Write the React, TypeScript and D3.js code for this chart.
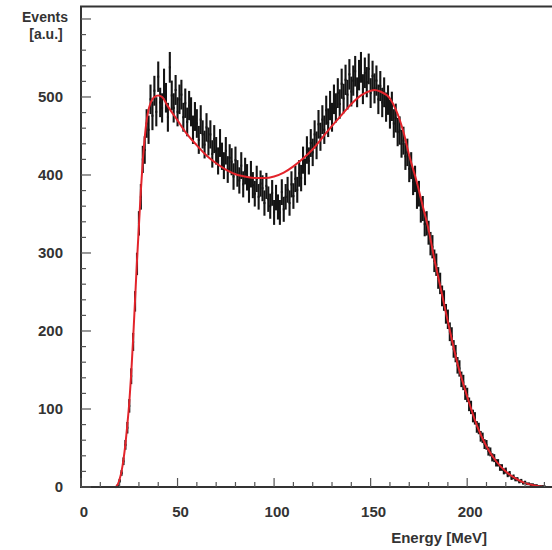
import React from "react";
import * as d3 from "d3";

// histogram: first bin centre (MeV) and counts per 1 MeV bin
const binStart = 18;
const counts = [
  0, 2, 8, 18, 33, 54, 76, 104, 142, 186, 238, 286, 338, 372, 420, 432, 466,
  458, 497, 476, 508, 481, 526, 493, 486, 517, 499, 474, 538, 502, 486, 509,
  481, 497, 503, 474, 492, 468, 489, 481, 458, 475, 466, 445, 471, 452, 439,
  461, 443, 452, 427, 446, 431, 418, 441, 424, 412, 431, 407, 422, 417, 398,
  419, 402, 393, 412, 388, 405, 397, 381, 401, 387, 376, 395, 372, 389, 383,
  364, 386, 369, 360, 377, 352, 371, 359, 352, 378, 356, 372, 381, 364, 388,
  373, 395, 381, 402, 396, 419, 404, 432, 418, 441, 429, 452, 438, 465, 449,
  471, 458, 483, 467, 489, 474, 497, 486, 505, 491, 517, 498, 522, 503, 529,
  507, 521, 533, 506, 528, 538, 510, 531, 519, 536, 505, 527, 511, 521, 497,
  514, 493, 506, 487, 496, 478, 488, 466, 473, 455, 457, 440, 444, 424, 429,
  408, 412, 391, 395, 373, 376, 355, 357, 337, 338, 326, 312, 308, 290, 285,
  268, 261, 245, 239, 222, 215, 199, 193, 177, 171, 156, 152, 138, 134, 121,
  118, 106, 102, 91, 88, 77, 75, 65, 63, 55, 54, 46, 45, 38, 37, 31, 31, 25,
  25, 20, 21, 16, 17, 12, 13, 10, 10, 7, 8, 5, 6, 4, 4, 3, 3, 2, 2, 1, 1, 1, 1,
];

// fit curve
const fitEnergy = [
  18, 19, 20, 21, 22, 23, 24, 25, 26, 27, 28, 29, 30, 31, 32, 33, 34, 35, 36,
  37, 38, 40, 42, 45, 50, 55, 60, 65, 70, 75, 80, 85, 90, 95, 100, 105, 110,
  115, 120, 125, 130, 135, 140, 145, 150, 152, 155, 160, 163, 167, 170, 174,
  177, 180, 183, 186, 190, 195, 200, 205, 210, 215, 220, 225, 230, 235, 240,
];
const fitEvents = [
  0, 3, 10, 20, 35, 55, 80, 108, 145, 190, 240, 290, 335, 380, 418, 448, 470,
  484, 492, 497, 500, 502, 500, 488, 470, 452, 438, 425, 415, 407, 401, 398,
  396, 396, 398, 403, 411, 421, 433, 448, 463, 477, 491, 502, 508, 509, 507,
  498, 484, 455, 425, 390, 360, 330, 292, 258, 212, 158, 116, 79, 52, 33, 20,
  11, 5, 2, 0,
];

const xMajor = [0, 50, 100, 150, 200];
const yMajor = [0, 100, 200, 300, 400, 500, 600];

const W = 552;
const H = 550;
const left = 81;
const bottom = 487;
const font = "'Liberation Sans', Arial, Helvetica, sans-serif";
const axisColor = "#333";

export default function App() {
  const x = d3.scaleLinear().domain([0, 246]).range([left, 556]);
  const y = d3.scaleLinear().domain([0, 616]).range([bottom, 6.5]);

  const bins = counts.map((c, i) => ({ e: binStart + i, c }));
  const fit = fitEnergy.map((e, i) => [e, fitEvents[i]] as [number, number]);
  const fitLine = d3
    .line<[number, number]>()
    .x((d) => x(d[0]))
    .y((d) => y(d[1]))
    .curve(d3.curveMonotoneX);

  const xMinor = d3.range(0, 246, 10).filter((v) => v % 50 !== 0);
  const yMinor = d3.range(0, 616, 20).filter((v) => v % 100 !== 0);

  return (
    <svg
      width={W}
      height={H}
      style={{ position: "absolute", left: 0, top: 0, background: "#fff" }}
    >
      {/* data points with error bars */}
      <g stroke="#141414" strokeWidth={2.1}>
        {bins.map((b) => {
          const err = 0.85 * Math.sqrt(b.c);
          return (
            <g key={b.e}>
              <line
                x1={x(b.e - 0.5)}
                x2={x(b.e + 0.5)}
                y1={y(b.c)}
                y2={y(b.c)}
              />
              {err > 0 && (
                <line
                  x1={x(b.e)}
                  x2={x(b.e)}
                  y1={y(b.c - err)}
                  y2={y(b.c + err)}
                />
              )}
            </g>
          );
        })}
      </g>

      {/* fit */}
      <path d={fitLine(fit) || ""} fill="none" stroke="#e3242b" strokeWidth={2} />

      {/* frame */}
      <path
        d={`M${W + 5},${y(616)} H${left} V${bottom} H${W + 5}`}
        fill="none"
        stroke={axisColor}
        strokeWidth={2}
      />

      {/* ticks */}
      <g stroke="#555" strokeWidth={1.2}>
        {xMajor.map((v) => (
          <line key={v} x1={x(v)} x2={x(v)} y1={bottom} y2={bottom - 9} />
        ))}
        {xMinor.map((v) => (
          <line key={v} x1={x(v)} x2={x(v)} y1={bottom} y2={bottom - 5} />
        ))}
        {yMajor.map((v) => (
          <line key={v} x1={left} x2={left + 10} y1={y(v)} y2={y(v)} />
        ))}
        {yMinor.map((v) => (
          <line key={v} x1={left} x2={left + 5} y1={y(v)} y2={y(v)} />
        ))}
      </g>

      <g fontFamily={font} fontWeight="bold" fontSize={15} fill={axisColor}>
        {xMajor.map((v) => (
          <text key={v} x={x(v) + 3} y={517} textAnchor="middle">
            {v}
          </text>
        ))}
        {yMajor
          .filter((v) => v < 600)
          .map((v) => (
            <text key={v} x={63} y={y(v) + 5} textAnchor="end">
              {v}
            </text>
          ))}
        <text x={487} y={543} textAnchor="end">
          Energy [MeV]
        </text>
        <text x={45} y={22} fontSize={14} textAnchor="middle">
          Events
        </text>
        <text x={46} y={39} fontSize={14} textAnchor="middle">
          [a.u.]
        </text>
      </g>
    </svg>
  );
}
